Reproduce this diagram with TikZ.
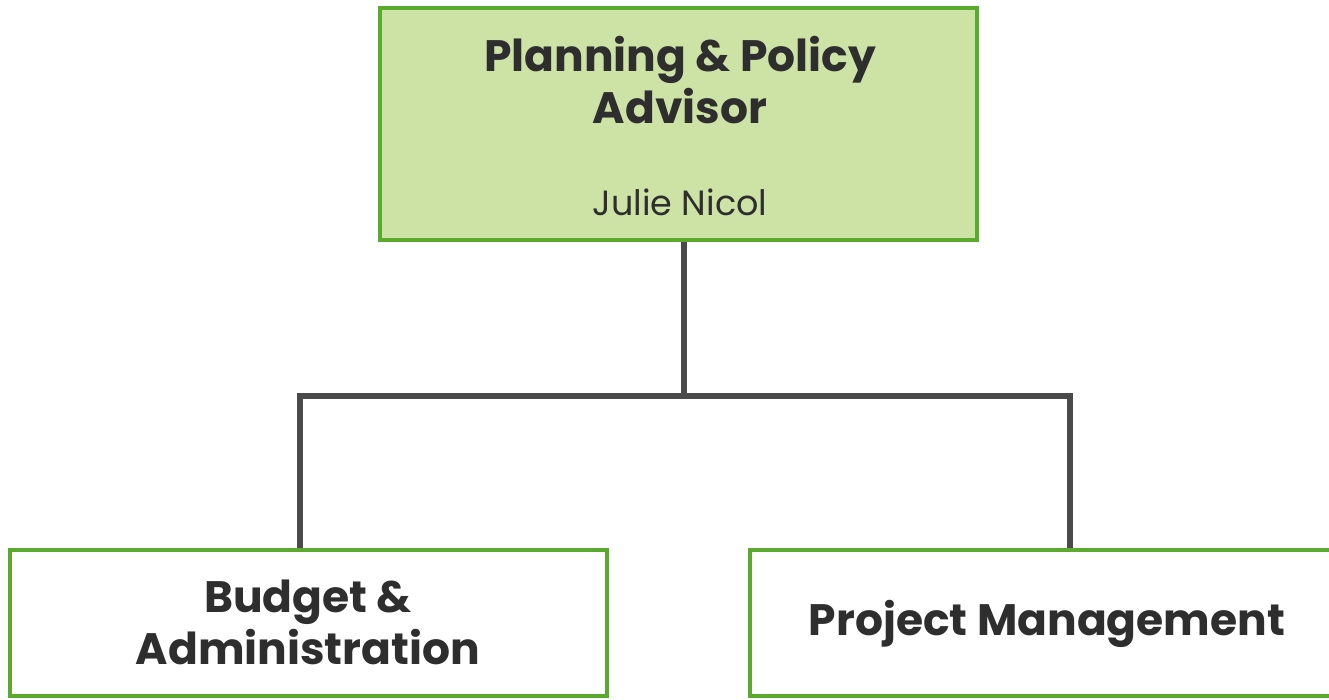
\documentclass[tikz,border=0pt]{standalone}
\usepackage{fontspec}
\setmainfont{Poppins}
\begin{document}
\begin{tikzpicture}[x=1pt,y=-1pt,
  box/.style={draw=boxgreen,line width=4pt,inner sep=0pt,align=center,text=txt},
  conn/.style={draw=linegray,line width=6pt},
  ttl/.style={font=\fontsize{44}{52}\selectfont\bfseries}]
\definecolor{boxgreen}{HTML}{5AAA2E}
\definecolor{topfill}{HTML}{CDE3A6}
\definecolor{linegray}{HTML}{4A4A4A}
\definecolor{txt}{HTML}{2E2E2E}
\useasboundingbox (0,0) rectangle (1329,699);
\node[box,fill=topfill,minimum width=597pt,minimum height=232pt] (top) at (678.5,124) {};
\node[txt,ttl,align=center] (toptitle) at (680,80) {Planning \& Policy\\Advisor};
\node[txt,font=\fontsize{35}{42}\selectfont] (name) at (680,202) {Julie Nicol};
\node[box,fill=white,minimum width=597pt,minimum height=146pt] (left) at (308.5,623) {};
\node[txt,ttl,align=center] (lefttext) at (308,622) {Budget \&\\Administration};
\node[box,fill=white,minimum width=600pt,minimum height=146pt] (right) at (1050,623) {};
\node[txt,ttl] (righttext) at (1047,624) {Project Management};
\coordinate (mid) at (684,396);
\draw[conn] (top.south -| mid) -- (mid);
\draw[conn] (left.north -| 300,0) |- (mid) -| (right.north -| 1070,0);
\end{tikzpicture}
\end{document}
